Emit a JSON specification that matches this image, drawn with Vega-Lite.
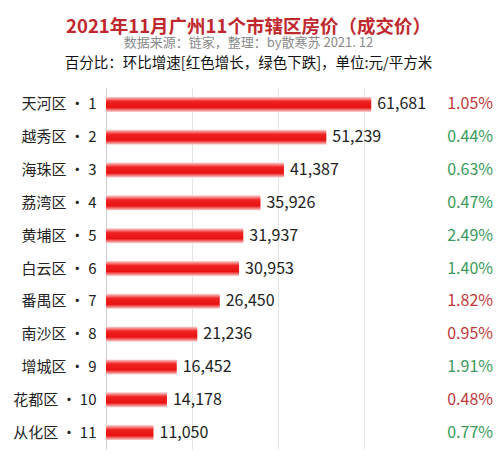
{
  "$schema": "https://vega.github.io/schema/vega-lite/v6.json",
  "width": 387,
  "height": 361,
  "autosize": {"type": "none"},
  "padding": {"left": 106, "top": 88, "right": 7, "bottom": 16},
  "background": "white",
  "title": {
    "text": "2021年11月广州11个市辖区房价（成交价）",
    "subtitle": "数据来源：链家，整理：by散寒苏  2021. 12",
    "anchor": "middle",
    "frame": "group",
    "dx": -51,
    "offset": 5,
    "font": "Noto Sans CJK SC",
    "fontSize": 18.5,
    "fontWeight": "bold",
    "color": "#c0282d",
    "subtitleFont": "Noto Sans CJK SC",
    "subtitleFontSize": 13,
    "subtitleColor": "#8a8a8a",
    "subtitlePadding": 1
  },
  "data": {
    "values": [
      {"district": "天河区 · 1", "price": 61681, "pct": "1.05%", "dir": "up"},
      {"district": "越秀区 · 2", "price": 51239, "pct": "0.44%", "dir": "down"},
      {"district": "海珠区 · 3", "price": 41387, "pct": "0.63%", "dir": "down"},
      {"district": "荔湾区 · 4", "price": 35926, "pct": "0.47%", "dir": "down"},
      {"district": "黄埔区 · 5", "price": 31937, "pct": "2.49%", "dir": "down"},
      {"district": "白云区 · 6", "price": 30953, "pct": "1.40%", "dir": "down"},
      {"district": "番禺区 · 7", "price": 26450, "pct": "1.82%", "dir": "up"},
      {"district": "南沙区 · 8", "price": 21236, "pct": "0.95%", "dir": "up"},
      {"district": "增城区 · 9", "price": 16452, "pct": "1.91%", "dir": "down"},
      {"district": "花都区 · 10", "price": 14178, "pct": "0.48%", "dir": "up"},
      {"district": "从化区 · 11", "price": 11050, "pct": "0.77%", "dir": "down"}
    ]
  },
  "encoding": {
    "y": {
      "field": "district",
      "type": "nominal",
      "sort": null,
      "scale": {"paddingInner": 0, "paddingOuter": 0},
      "axis": {
        "title": null,
        "ticks": false,
        "domain": true,
        "domainColor": "#cccccc",
        "labelFont": "Noto Sans CJK SC",
        "labelFontSize": 15,
        "labelColor": "#222222",
        "labelPadding": 10,
        "grid": false
      }
    }
  },
  "layer": [
    {
      "mark": {
        "type": "bar",
        "height": 15,
        "color": {
          "gradient": "linear",
          "x1": 0, "y1": 0, "x2": 0, "y2": 1,
          "stops": [
            {"offset": 0, "color": "#fbd3d3"},
            {"offset": 0.3, "color": "#f02222"},
            {"offset": 0.7, "color": "#e81212"},
            {"offset": 1, "color": "#fbd3d3"}
          ]
        }
      },
      "encoding": {
        "x": {
          "field": "price",
          "type": "quantitative",
          "scale": {"domain": [0, 90000], "nice": false},
          "axis": {
            "orient": "top",
            "values": [0, 20000, 40000, 60000],
            "grid": true,
            "gridColor": "#e4e4e4",
            "labels": false,
            "ticks": false,
            "domain": false,
            "title": "百分比：环比增速[红色增长，绿色下跌]，单位:元/平方米",
            "titleFont": "Noto Sans CJK SC",
            "titleFontSize": 14.5,
            "titleFontWeight": "normal",
            "titleColor": "#111111",
            "titleX": 142,
            "titleY": -21,
            "titleAlign": "center",
            "titleBaseline": "alphabetic"
          }
        }
      }
    },
    {
      "mark": {
        "type": "text",
        "align": "left",
        "baseline": "middle",
        "dx": 6,
        "font": "Noto Sans CJK SC",
        "fontSize": 16,
        "color": "#222222"
      },
      "encoding": {
        "x": {"field": "price", "type": "quantitative"},
        "text": {"field": "price", "type": "quantitative", "format": ","}
      }
    },
    {
      "mark": {
        "type": "text",
        "align": "right",
        "baseline": "middle",
        "font": "Noto Sans CJK SC",
        "fontSize": 16
      },
      "encoding": {
        "x": {"datum": 90000, "type": "quantitative"},
        "text": {"field": "pct"},
        "color": {
          "field": "dir",
          "type": "nominal",
          "scale": {"domain": ["up", "down"], "range": ["#c0393b", "#3b9a5c"]},
          "legend": null
        }
      }
    }
  ],
  "config": {"view": {"stroke": null}}
}
